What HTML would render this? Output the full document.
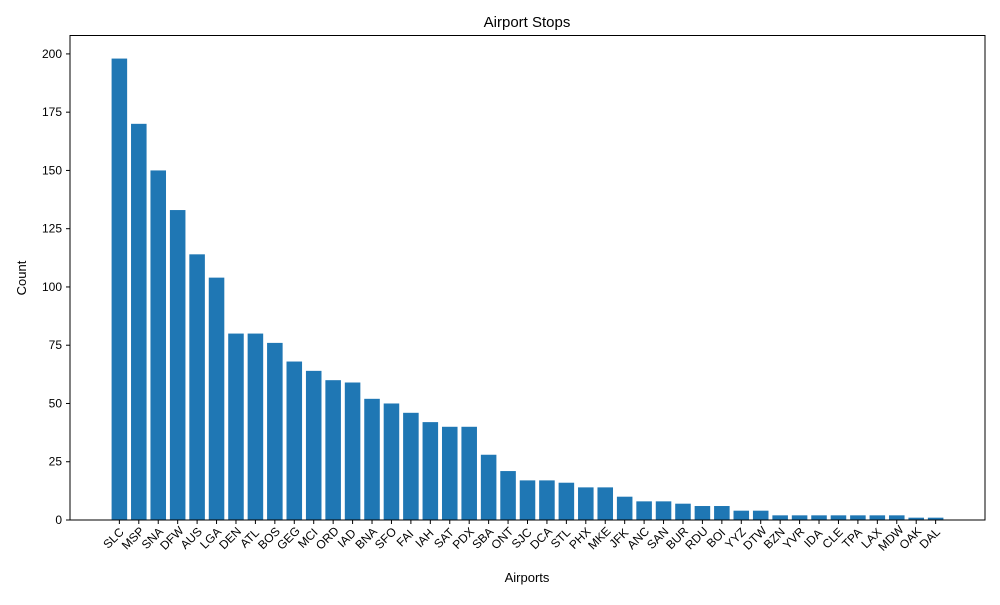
<!DOCTYPE html>
<html><head><meta charset="utf-8"><style>
body{margin:0;background:#fff;font-family:"Liberation Sans","DejaVu Sans",sans-serif;}
</style></head><body>
<svg id="chart" width="1000" height="600" xmlns="http://www.w3.org/2000/svg">
<rect x="0" y="0" width="1000" height="600" fill="#fff"/>
<text x="527" y="27" font-size="15" text-anchor="middle" fill="#000">Airport Stops</text>
<text x="527" y="582" font-size="13" text-anchor="middle" fill="#000">Airports</text>
<text x="0" y="0" font-size="13" text-anchor="middle" fill="#000" transform="translate(26,278) rotate(-90)">Count</text>
<g id="bars"></g><g id="xt"></g><g id="yt"></g>
<rect x="70" y="35.5" width="915" height="484.5" fill="none" stroke="#000" stroke-width="1"/>
</svg>
<script>
const categories=["SLC","MSP","SNA","DFW","AUS","LGA","DEN","ATL","BOS","GEG","MCI","ORD","IAD","BNA","SFO","FAI","IAH","SAT","PDX","SBA","ONT","SJC","DCA","STL","PHX","MKE","JFK","ANC","SAN","BUR","RDU","BOI","YYZ","DTW","BZN","YVR","IDA","CLE","TPA","LAX","MDW","OAK","DAL"];
const counts=[198,170,150,133,114,104,80,80,76,68,64,60,59,52,50,46,42,40,40,28,21,17,17,16,14,14,10,8,8,7,6,6,4,4,2,2,2,2,2,2,2,1,1];
const yTicks=[0,25,50,75,100,125,150,175,200];
const NS="http://www.w3.org/2000/svg";
const L=70,R=985,T=35.5,B=520;
const n=categories.length;
const xmin=-0.4-0.05*(n-0.2),xmax=n-1+0.4+0.05*(n-0.2);
const ymax=Math.max(...counts)*1.05;
const xs=v=>L+(v-xmin)/(xmax-xmin)*(R-L);
const ys=v=>B-v/ymax*(B-T);
function mk(tag,attrs,parent){const e=document.createElementNS(NS,tag);for(const k in attrs)e.setAttribute(k,attrs[k]);parent.appendChild(e);return e;}
const gb=document.getElementById('bars'),gx=document.getElementById('xt'),gy=document.getElementById('yt');
counts.forEach((c,i)=>{
  const r=mk('rect',{x:xs(i-0.4),y:ys(c),width:xs(i+0.4)-xs(i-0.4),height:B-ys(c),fill:'#1f77b4'},gb);
  
  
  const x=xs(i);
  mk('line',{x1:x,x2:x,y1:B,y2:B+4,stroke:'#000'},gx);
  const t=mk('text',{x:0,y:0,'font-size':12,'text-anchor':'middle',transform:`translate(${x-3},${B+21}) rotate(-45)`},gx);
  t.textContent=categories[i];
  
  
});
yTicks.forEach(v=>{
  const y=ys(v);
  mk('line',{x1:L-4,x2:L,y1:y,y2:y,stroke:'#000'},gy);
  const t=mk('text',{x:L-8,y:y+4,'font-size':12,'text-anchor':'end'},gy);
  t.textContent=v;
  
  
});
</script>
</body></html>
